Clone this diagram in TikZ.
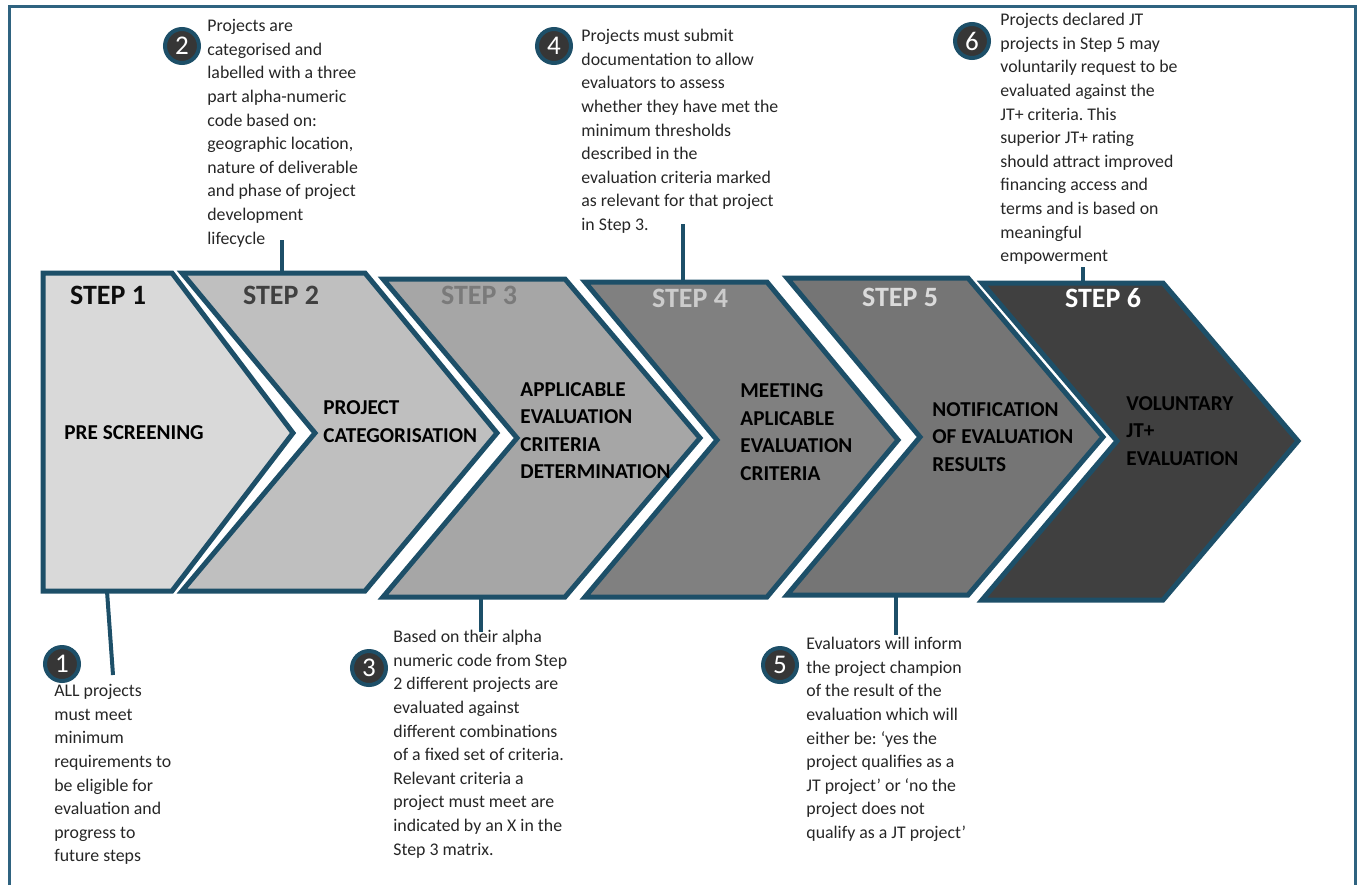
\documentclass[tikz,border=0pt]{standalone}
\usepackage{fontspec}
\setmainfont{Carlito}
\usepackage{xcolor}
\definecolor{chevline}{HTML}{1D4F68}
\definecolor{framec}{HTML}{2F6380}
\definecolor{numfill}{HTML}{363636}
\frenchspacing

\begin{document}
\begin{tikzpicture}[x=0.5pt, y=-0.5pt,
    chev/.style={draw=chevline, line width=2.5pt, line join=miter},
    steplabel/.style={font=\fontsize{14}{16}\selectfont\bfseries, inner sep=0pt},
    steptext/.style={font=\fontsize{10.6}{13.75}\selectfont\bfseries, align=left, anchor=west, inner sep=0pt},
    note/.style={font=\fontsize{8.9}{11.8}\selectfont, align=left, anchor=north west, inner sep=0pt, text=black!85},
    numdot/.style={circle, fill=numfill, draw=chevline, line width=2pt, minimum size=17pt, inner sep=0pt, text=white, font=\fontsize{13.5}{13.5}\selectfont},
    link/.style={draw=chevline, line width=2pt}]
    \useasboundingbox (0,0) rectangle (1359,885);

    % Draw outer frame
    \draw[framec, line width=1.5pt] (9,885) -- (9,6) -- (1355,6) -- (1355,885);

    % Draw the six chevrons
    \draw[chev, fill=black!15] (43,273) -- (172,273) -- (293,433) -- (172,591) -- (43,591) -- cycle;
    \draw[chev, fill=black!25] (182,273) -- (365,273) -- (497,433) -- (365,591) -- (182,591) -- (315,433) -- cycle;
    \draw[chev, fill=black!35] (383,279) -- (565,279) -- (700,438) -- (565,597) -- (383,597) -- (517,438) -- cycle;
    \draw[chev, fill=black!50] (585,282) -- (767,282) -- (898,440) -- (767,597) -- (585,597) -- (717,440) -- cycle;
    \draw[chev, fill=black!54] (787,278) -- (968,278) -- (1103,437) -- (968,595) -- (787,595) -- (920,437) -- cycle;
    \draw[chev, fill=numfill!95] (982,283) -- (1163,283) -- (1298,441) -- (1163,600) -- (982,600) -- (1117,441) -- cycle;

    % Step headings
    \node[steplabel, text=black!95] (h1) at (108,295) {STEP 1};
    \node[steplabel, text=black!75] (h2) at (281,295) {STEP 2};
    \node[steplabel, text=black!52] (h3) at (479,295) {STEP 3};
    \node[steplabel, text=black!20] (h4) at (690,298) {STEP 4};
    \node[steplabel, text=black!14] (h5) at (900,297) {STEP 5};
    \node[steplabel, text=white] (h6) at (1103,298) {STEP 6};

    % Step names
    \node[steptext] (n1) at (64,433) {PRE SCREENING};
    \node[steptext] (n2) at (323,421.5) {PROJECT\\CATEGORISATION};
    \node[steptext] (n3) at (520,430.5) {APPLICABLE\\EVALUATION\\CRITERIA\\DETERMINATION};
    \node[steptext] (n4) at (740,432) {MEETING\\APLICABLE\\EVALUATION\\CRITERIA};
    \node[steptext] (n5) at (932,437) {NOTIFICATION\\OF EVALUATION\\RESULTS};
    \node[steptext] (n6) at (1126,431) {VOLUNTARY\\JT+\\EVALUATION};

    % Anchor points on the chevrons
    \coordinate (s1) at (107,591);
    \coordinate (s2) at (282,273);
    \coordinate (s3) at (481,597);
    \coordinate (s4) at (683,282);
    \coordinate (s5) at (896,595);
    \coordinate (s6) at (1083,283);

    % Callout ends
    \coordinate (e1) at (113,675);
    \coordinate (e2) at (282,240);
    \coordinate (e3) at (481,632);
    \coordinate (e4) at (683,224);
    \coordinate (e5) at (896,635);
    \coordinate (e6) at (1083,267);

    % Draw connectors
    \draw[link] (s1) -- (e1);
    \draw[link] (s2) -- (e2);
    \draw[link] (s3) -- (e3);
    \draw[link] (s4) -- (e4);
    \draw[link] (s5) -- (e5);
    \draw[link] (s6) -- (e6);

    % Numbered markers
    \node[numdot] (c1) at (62,664) {1};
    \node[numdot] (c2) at (182,46) {2};
    \node[numdot] (c3) at (369,668) {3};
    \node[numdot] (c4) at (554,46) {4};
    \node[numdot] (c5) at (780,665) {5};
    \node[numdot] (c6) at (972,41) {6};

    % Callout texts
    \node[note] (t1) at (54,684) {ALL projects\\must meet\\minimum\\requirements to\\be eligible for\\evaluation and\\progress to\\future steps};
    \node[note] (t2) at (207,19) {Projects are\\categorised and\\labelled with a three\\part alpha-numeric\\code based on:\\geographic location,\\nature of deliverable\\and phase of project\\development\\lifecycle};
    \node[note] (t3) at (393,630) {Based on their alpha\\numeric code from Step\\2 different projects are\\evaluated against\\different combinations\\of a fixed set of criteria.\\Relevant criteria a\\project must meet are\\indicated by an X in the\\Step 3 matrix.};
    \node[note] (t4) at (581,29) {Projects must submit\\documentation to allow\\evaluators to assess\\whether they have met the\\minimum thresholds\\described in the\\evaluation criteria marked\\as relevant for that project\\in Step 3.};
    \node[note] (t5) at (806,637) {Evaluators will inform\\the project champion\\of the result of the\\evaluation which will\\either be: ‘yes the\\project qualifies as a\\JT project’ or ‘no the\\project does not\\qualify as a JT project’};
    \node[note] (t6) at (1000,13) {Projects declared JT\\projects in Step 5 may\\voluntarily request to be\\evaluated against the\\JT+ criteria. This\\superior JT+ rating\\should attract improved\\financing access and\\terms and is based on\\meaningful\\empowerment};
\end{tikzpicture}
\end{document}
